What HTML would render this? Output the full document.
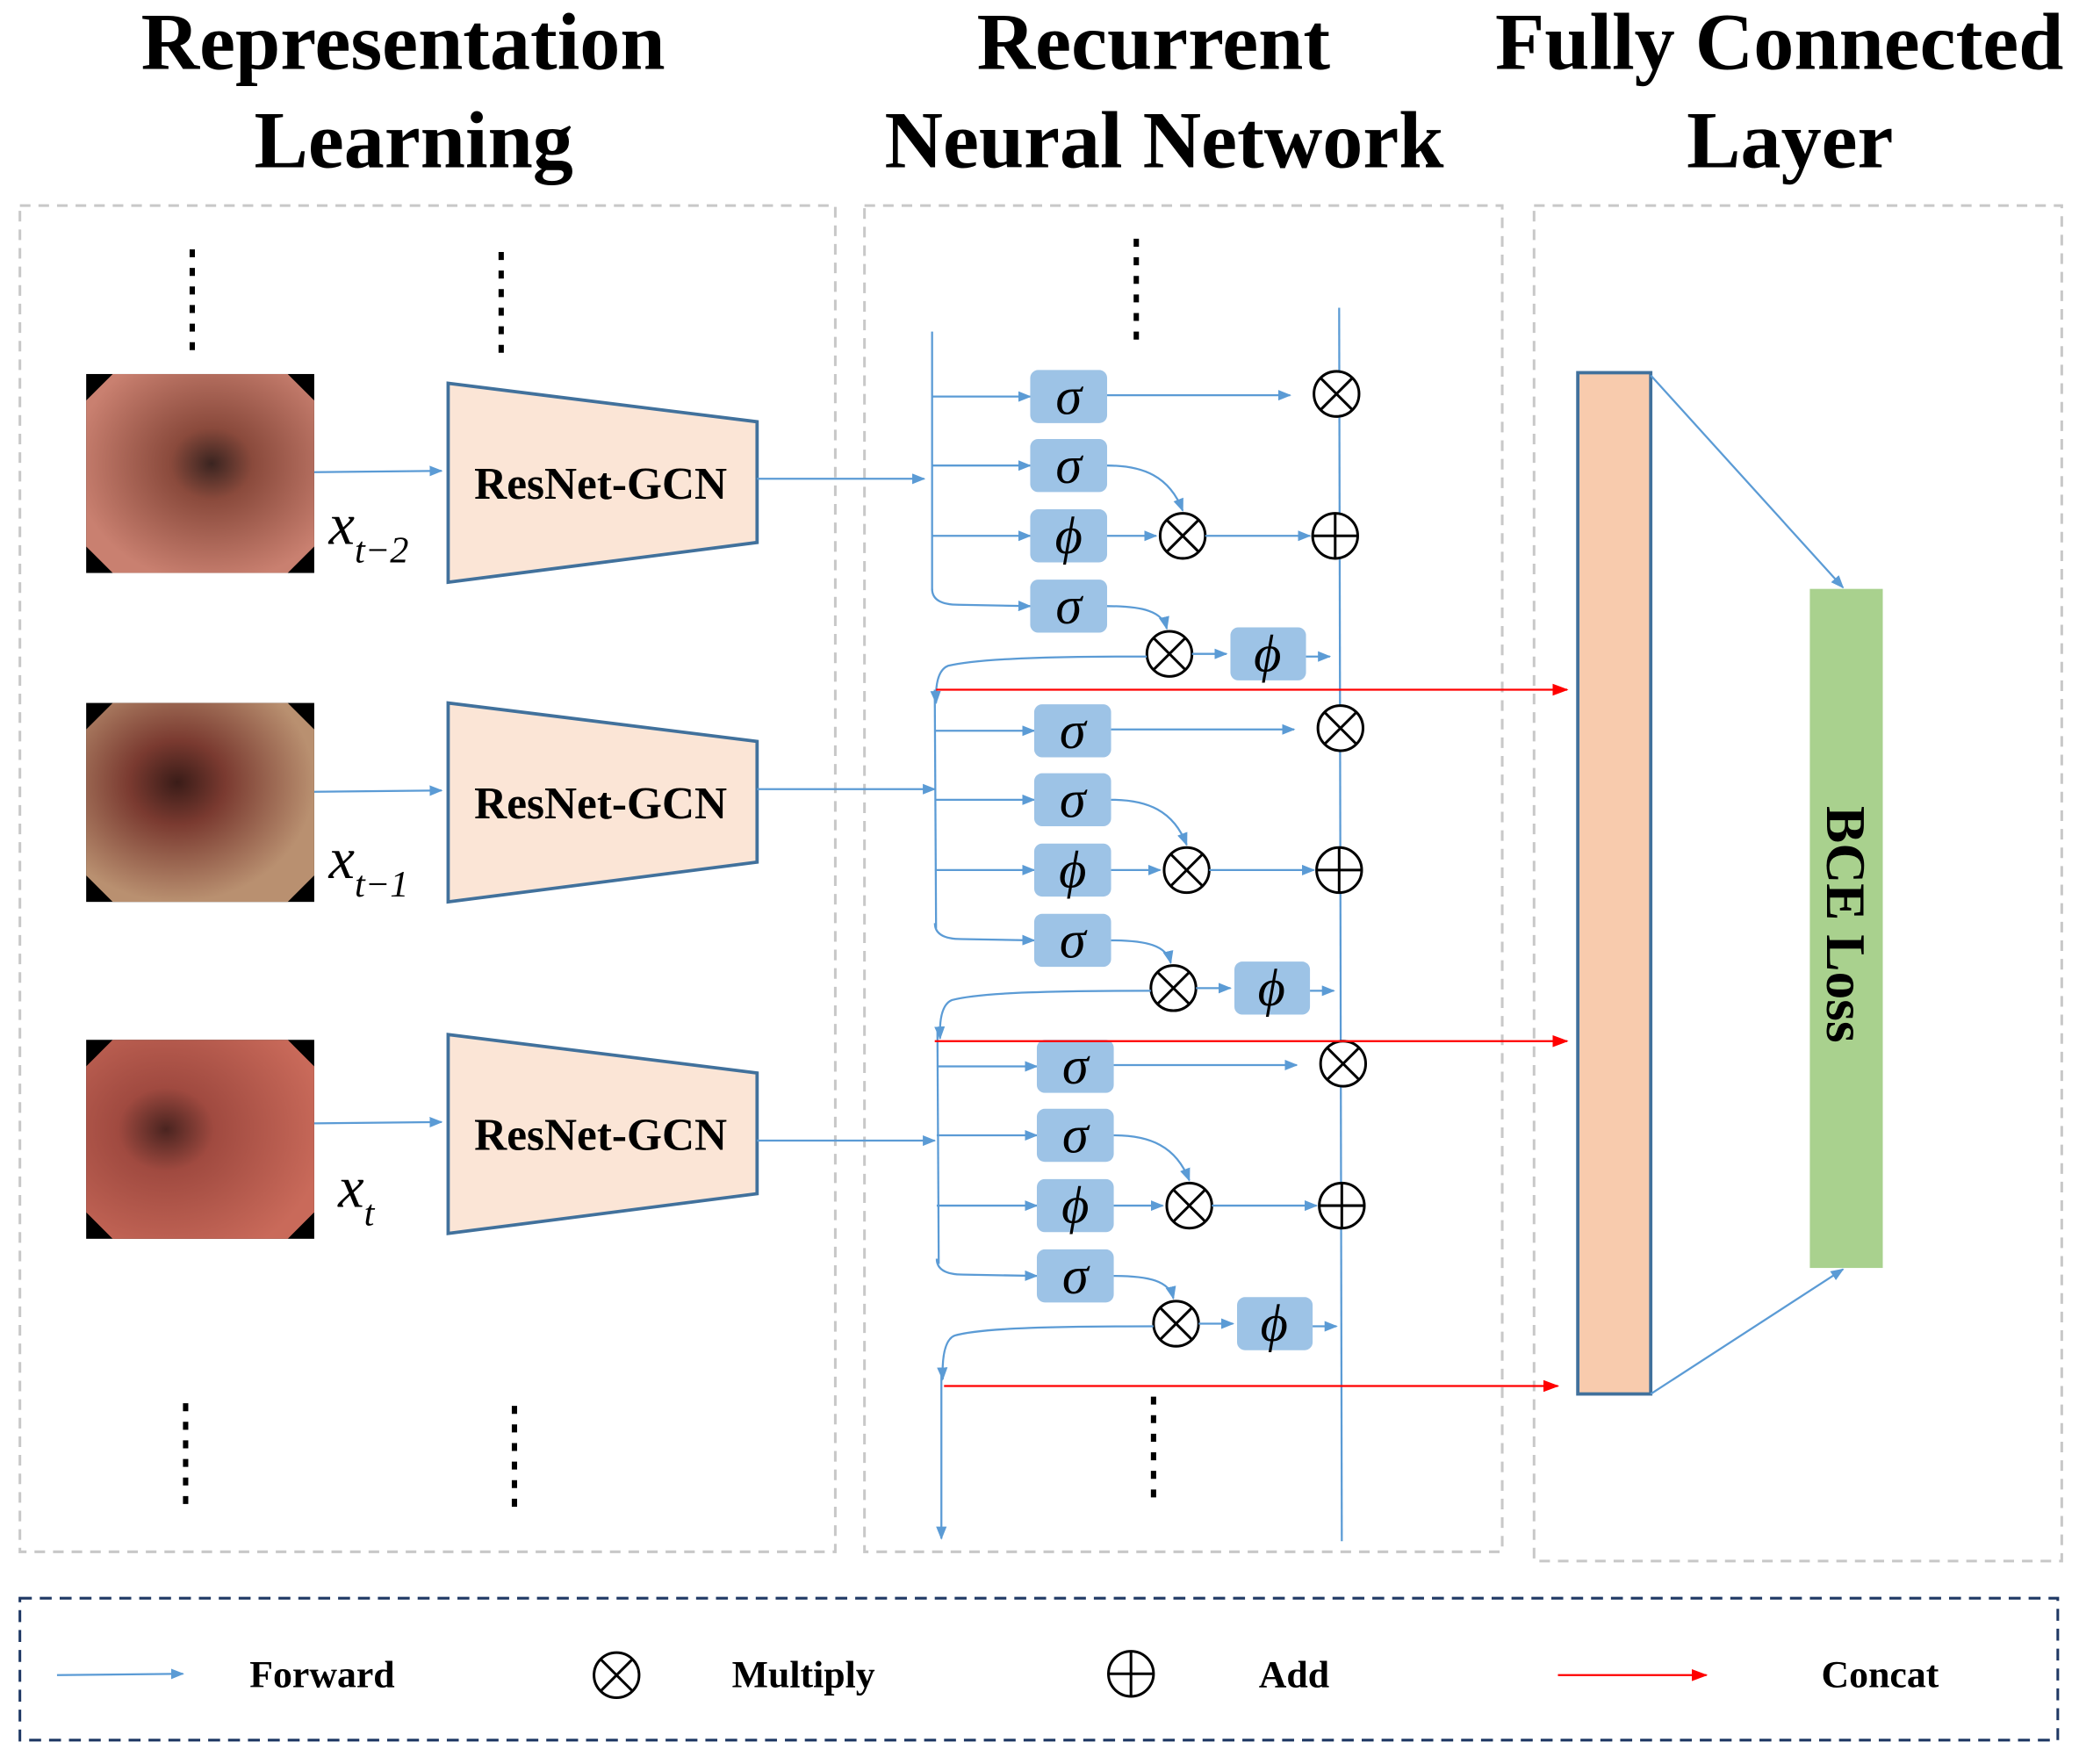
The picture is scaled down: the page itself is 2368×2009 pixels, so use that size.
<!DOCTYPE html>
<html><head><meta charset="utf-8"><style>
html,body{margin:0;padding:0;background:#fff;}
svg{display:block;}
text{font-family:"Liberation Serif",serif;}
</style></head><body>
<svg id="s" width="2368" height="2009" viewBox="0 0 1568 1330" preserveAspectRatio="none" xmlns="http://www.w3.org/2000/svg">
<defs>
<marker id="ab" markerWidth="10" markerHeight="8" refX="9" refY="4" orient="auto" markerUnits="userSpaceOnUse"><path d="M0,0 L10,4 L0,8 z" fill="#5b9bd5"/></marker>
<marker id="ar" markerWidth="12" markerHeight="9" refX="11" refY="4.5" orient="auto" markerUnits="userSpaceOnUse"><path d="M0,0 L12,4.5 L0,9 z" fill="#ff0000"/></marker>
<radialGradient id="g1" cx="0.55" cy="0.45" r="0.6"><stop offset="0" stop-color="#3a2420"/><stop offset="0.3" stop-color="#8a4a3c"/><stop offset="1" stop-color="#c98070"/></radialGradient>
<radialGradient id="g2" cx="0.4" cy="0.4" r="0.6"><stop offset="0" stop-color="#3a1c18"/><stop offset="0.35" stop-color="#7a3a30"/><stop offset="1" stop-color="#b99070"/></radialGradient>
<radialGradient id="g3" cx="0.35" cy="0.45" r="0.7"><stop offset="0" stop-color="#4a2420"/><stop offset="0.3" stop-color="#a04a40"/><stop offset="1" stop-color="#c96a5a"/></radialGradient>
</defs>
<g id="c"></g>
</svg>
<script>
var S='';
function a(s){S+=s;}
var B='#5b9bd5';
a('<g font-weight="bold" font-size="61" text-anchor="middle">');
a('<text x="304" y="52">Representation</text><text x="312" y="126">Learning</text>');
a('<text x="870" y="52">Recurrent</text><text x="878" y="126">Neural Network</text>');
a('<text x="1342" y="52">Fully Connected</text><text x="1350" y="126">Layer</text></g>');
a('<g fill="none" stroke="#c8c8c8" stroke-width="2" stroke-dasharray="8,6"><rect x="15" y="155" width="615" height="1015"/><rect x="652" y="155" width="481" height="1015"/><rect x="1157" y="155" width="398" height="1022"/></g>');
a('<rect x="15" y="1205" width="1537" height="107" fill="none" stroke="#1f3864" stroke-width="2" stroke-dasharray="9,6"/>');
[[145,188,268],[378,190,270],[857,180,258],[140,1058,1138],[388,1060,1140],[870,1053,1133]].forEach(function(d){a('<line x1="'+d[0]+'" y1="'+d[1]+'" x2="'+d[0]+'" y2="'+d[2]+'" stroke="#000" stroke-width="4" stroke-dasharray="6,8"/>');});
var IY=[282,530,784],TY=[289,530,780],labs=[['t\u22122',248,410],['t\u22121',248,662],['t',255,910]],g=['g1','g2','g3'];
for(var i=0;i<3;i++){
 var y=IY[i];
 a('<rect x="65" y="'+y+'" width="172" height="150" fill="#000"/>');
 a('<polygon points="85,'+y+' 217,'+y+' 237,'+(y+20)+' 237,'+(y+130)+' 217,'+(y+150)+' 85,'+(y+150)+' 65,'+(y+130)+' 65,'+(y+20)+'" fill="url(#'+g[i]+')"/>');
 var t=TY[i];
 a('<polygon points="338,'+t+' 571,'+(t+29)+' 571,'+(t+120)+' 338,'+(t+150)+'" fill="#fbe5d6" stroke="#41719c" stroke-width="2.5"/>');
 a('<text x="453" y="'+(t+87)+'" text-anchor="middle" font-weight="bold" font-size="34">ResNet-GCN</text>');
 a('<line x1="237" y1="'+(t+67)+'" x2="333" y2="'+(t+66)+'" stroke="'+B+'" stroke-width="1.5" marker-end="url(#ab)"/>');
 var l=labs[i];
 a('<text x="'+l[1]+'" y="'+l[2]+'" font-style="italic" font-size="44">x<tspan font-size="28" dy="14">'+l[0]+'</tspan></text>');
}
var BY=[299,551,804],dx=[0,3,5];
function ot(x,y){a('<circle cx="'+x+'" cy="'+y+'" r="17" fill="#fff" stroke="#000" stroke-width="2"/><line x1="'+(x-12)+'" y1="'+(y-12)+'" x2="'+(x+12)+'" y2="'+(y+12)+'" stroke="#000" stroke-width="2"/><line x1="'+(x+12)+'" y1="'+(y-12)+'" x2="'+(x-12)+'" y2="'+(y+12)+'" stroke="#000" stroke-width="2"/>');}
function op(x,y){a('<circle cx="'+x+'" cy="'+y+'" r="17" fill="#fff" stroke="#000" stroke-width="2"/><line x1="'+(x-17)+'" y1="'+y+'" x2="'+(x+17)+'" y2="'+y+'" stroke="#000" stroke-width="2"/><line x1="'+x+'" y1="'+(y-17)+'" x2="'+x+'" y2="'+(y+17)+'" stroke="#000" stroke-width="2"/>');}
function box(x,y,s){a('<rect x="'+x+'" y="'+(y-20)+'" width="58" height="40" rx="6" fill="#9dc3e6"/><text x="'+(x+29)+'" y="'+(y+13)+'" text-anchor="middle" font-style="italic" font-size="40">'+s+'</text>');}
function ln(x1,y1,x2,y2){a('<line x1="'+x1+'" y1="'+y1+'" x2="'+x2+'" y2="'+y2+'" stroke="'+B+'" stroke-width="1.5" marker-end="url(#ab)"/>');}
a('<line x1="1010" y1="232" x2="1012" y2="1162" stroke="'+B+'" stroke-width="1.5"/>');
a('<line x1="703" y1="250" x2="703" y2="445" stroke="'+B+'" stroke-width="1.5"/>');
a('<line x1="705" y1="520" x2="706" y2="700" stroke="'+B+'" stroke-width="1.5"/>');
a('<line x1="707" y1="775" x2="708" y2="953" stroke="'+B+'" stroke-width="1.5"/>');
ln(710,1035,710,1160);
var inY=[361,595,860];
for(var i=0;i<3;i++){
 var y=BY[i],d=dx[i],vx=703+d*0.7,bx=777+d;
 ln(571,inY[i],697+(i?8:0),inY[i]);
 ln(vx,y,bx,y);ln(vx,y+52,bx,y+52);ln(vx,y+105,bx,y+105);
 a('<path d="M'+vx+','+(y+145)+' Q'+vx+','+(y+157)+' '+(vx+20)+','+(y+157)+' L'+bx+','+(y+158)+'" fill="none" stroke="'+B+'" stroke-width="1.5" marker-end="url(#ab)"/>');
 box(bx,y,'\u03c3');box(bx,y+52,'\u03c3');box(bx,y+105,'\u03d5');box(bx,y+158,'\u03c3');
 ln(bx+58,y-1,973+d,y-1);ot(1008+d,y-2);
 a('<path d="M'+(bx+58)+','+(y+52)+' C'+(bx+85)+','+(y+52)+' '+(bx+105)+','+(y+60)+' '+(892+d)+','+(y+86)+'" fill="none" stroke="'+B+'" stroke-width="1.5" marker-end="url(#ab)"/>');
 ln(bx+58,y+105,872+d,y+105);ot(892+d,y+105);
 ln(909+d,y+105,988+d,y+105);op(1007+d,y+105);
 a('<path d="M'+(bx+58)+','+(y+158)+' C'+(bx+85)+','+(y+158)+' '+(bx+100)+','+(y+162)+' '+(880+d)+','+(y+175)+'" fill="none" stroke="'+B+'" stroke-width="1.5" marker-end="url(#ab)"/>');
 ot(882+d,y+194);ln(899+d,y+194,925+d,y+194);
 a('<rect x="'+(928+d)+'" y="'+(y+174)+'" width="57" height="40" rx="6" fill="#9dc3e6"/><text x="'+(956+d)+'" y="'+(y+207)+'" text-anchor="middle" font-style="italic" font-size="40">\u03d5</text>');
 ln(985+d,y+196,1003+d,y+196);
 var fy=[520,773,1030][i];
 a('<path d="M'+(865+d)+','+(y+196)+' C800,'+(y+196)+' 740,'+(y+197)+' '+(715+d)+','+(y+203)+' Q'+(705+d)+','+(y+207)+' '+(706+d)+','+(fy+10)+'" fill="none" stroke="'+B+'" stroke-width="1.5" marker-end="url(#ab)"/>');
}
[[706,520,1182],[705,785,1182],[712,1045,1175]].forEach(function(r){a('<line x1="'+r[0]+'" y1="'+r[1]+'" x2="'+r[2]+'" y2="'+r[1]+'" stroke="#ff0000" stroke-width="1.5" marker-end="url(#ar)"/>');});
a('<rect x="1190" y="281" width="55" height="770" fill="#f8cbad" stroke="#41719c" stroke-width="2.5"/>');
a('<rect x="1365" y="444" width="55" height="512" fill="#a9d18e"/>');
a('<text transform="translate(1378,697) rotate(90)" text-anchor="middle" font-weight="bold" font-size="42">BCE Loss</text>');
ln(1245,283,1390,443);ln(1245,1051,1390,957);
ln(43,1263,138,1262);
a('<g font-weight="bold" font-size="29" text-anchor="middle"><text x="243" y="1272">Forward</text><text x="606" y="1272">Multiply</text><text x="976" y="1272">Add</text><text x="1418" y="1272">Concat</text></g>');
ot(465,1263);op(853,1262);
a('<line x1="1175" y1="1263" x2="1287" y2="1263" stroke="#ff0000" stroke-width="1.5" marker-end="url(#ar)"/>');
document.getElementById('c').innerHTML=S;
</script>
</body></html>
